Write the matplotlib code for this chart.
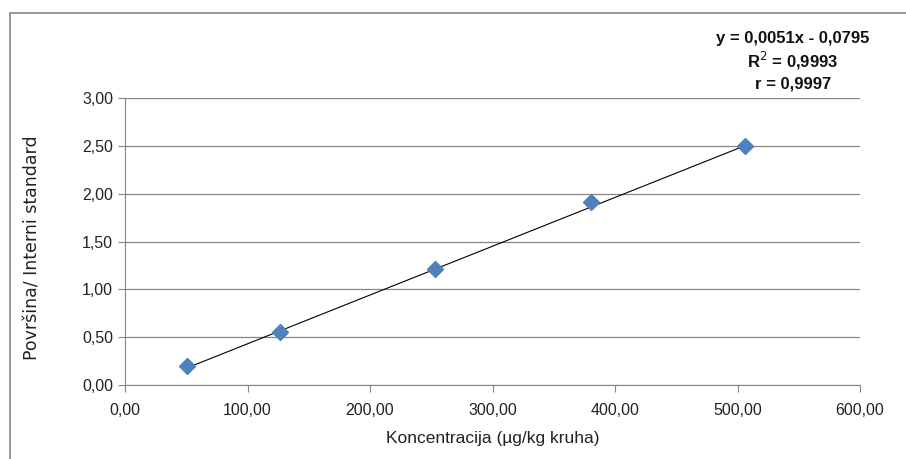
import matplotlib
matplotlib.use("Agg")
import matplotlib.pyplot as plt
from matplotlib.patches import Rectangle
from matplotlib.ticker import FuncFormatter
import numpy as np

# calibration data
koncentracija = [50.6, 126.5, 253.0, 380.0, 506.0]
omjer = [0.198, 0.551, 1.217, 1.911, 2.503]
slope, intercept = 0.0051, -0.0795
eq_lines = ["y = 0,0051x - 0,0795", "R$^2$ = 0,9993", "r = 0,9997"]

plt.rcParams['font.family'] = ['Liberation Sans Narrow', 'Liberation Sans', 'DejaVu Sans']

fig = plt.figure(figsize=(9.06, 4.59), dpi=100)
ax = fig.add_axes([125/906, 1-385/459, 735/906, 287/459])

grey = "#868686"
x = np.array(koncentracija)
ax.plot([x.min(), x.max()], [slope*x.min()+intercept, slope*x.max()+intercept],
        color="black", lw=0.8, zorder=2)
ax.plot(koncentracija, omjer, linestyle="none", marker="D", markersize=8,
        color="#4F81BD", markeredgecolor="#4F81BD", zorder=3)

ax.set_xlim(0, 600)
ax.set_ylim(0, 3)
ax.set_xticks(np.arange(0, 601, 100))
ax.set_yticks(np.arange(0, 3.01, 0.5))
fmt = FuncFormatter(lambda v, p: f"{v:.2f}".replace(".", ","))
ax.xaxis.set_major_formatter(fmt)
ax.yaxis.set_major_formatter(fmt)
ax.yaxis.grid(True, color=grey, lw=0.9)
ax.set_axisbelow(True)
for s in ["top", "right"]:
    ax.spines[s].set_visible(False)
for s in ["left", "bottom"]:
    ax.spines[s].set_color(grey)
ax.tick_params(colors=grey, labelcolor="#222222", labelsize=11.5, length=5)
ax.tick_params(axis="x", pad=8)

ax.set_xlabel("Koncentracija (µg/kg kruha)", fontsize=12.5, color="#222222", labelpad=9)
ax.set_ylabel("Površina/ Interni standard", fontsize=12.5, color="#222222",
              family=["DejaVu Sans"])
ax.yaxis.set_label_coords(-0.113, 0.477)

for i, t in enumerate(eq_lines):
    fig.text(793/906, 1-(38+23*i)/459, t, ha="center", va="center",
             fontsize=12, fontweight="bold", color="#111111")

fig.add_artist(Rectangle((10/906, -0.1), 1.2, 1.1-13/459, transform=fig.transFigure,
                         fill=False, edgecolor=grey, lw=1.2))

fig.savefig("out.png", dpi=100)
